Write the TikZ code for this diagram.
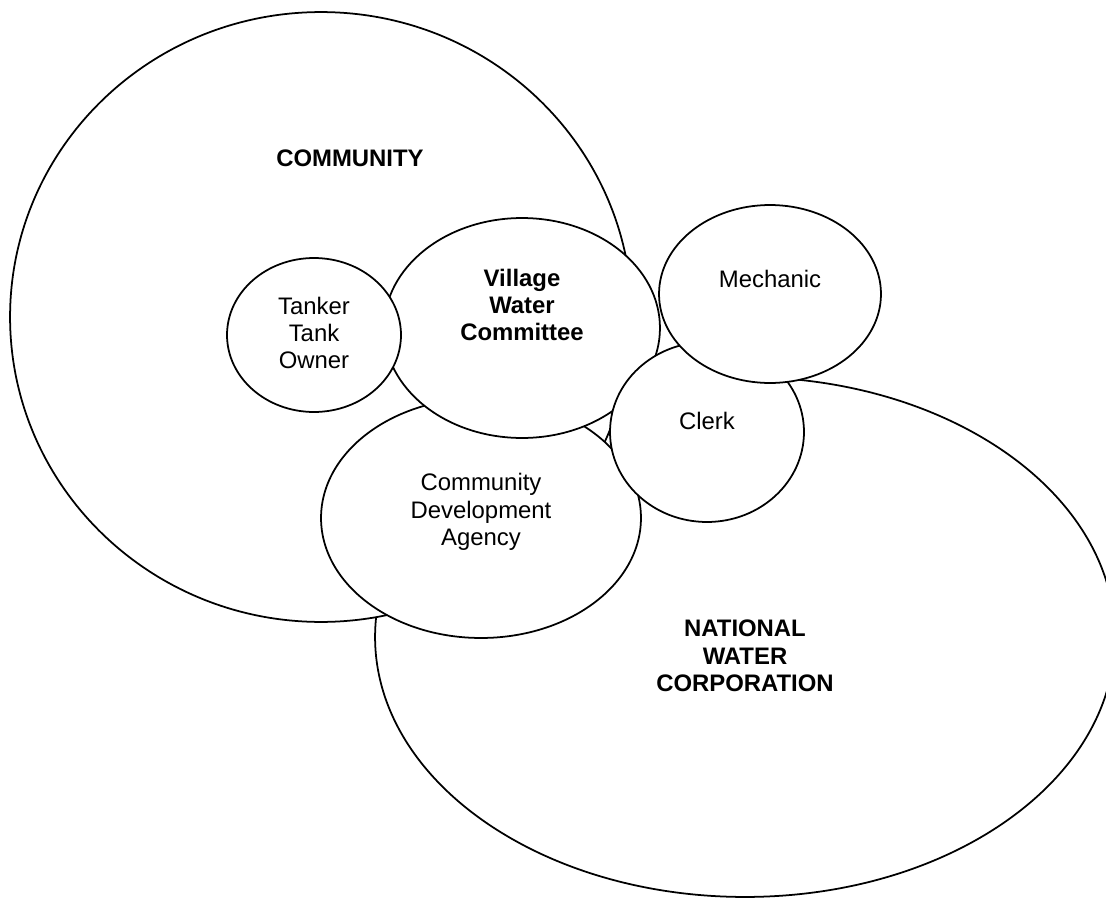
\documentclass[tikz,border=0pt]{standalone}
\usepackage{fontspec}
\setmainfont{Liberation Sans}
\usetikzlibrary{shapes.geometric}

\tikzset{
	blob/.style = {ellipse, draw, fill = white, line width = 1pt, inner sep = 0pt},
	tag/.style = {align = center, font = \fontsize{13.6}{15.6}\selectfont}
}

\begin{document}
\begin{tikzpicture}[x = 0.02cm, y = -0.02cm]
		\clip (0, 0) rectangle (1106, 899);
		\fill[white] (0, 0) rectangle (1106, 899);
		% back to front
		\node[blob, minimum width = 14.8cm, minimum height = 10.4cm] (nwc) at (745, 637) {};
		\node[blob, minimum width = 12.44cm, minimum height = 12.2cm] (comm) at (321, 317) {};
		\node[blob, minimum width = 6.4cm, minimum height = 4.8cm] (cda) at (481, 518) {};
		\node[blob, minimum width = 5.52cm, minimum height = 4.4cm] (vwc) at (522, 328) {};
		\node[blob, minimum width = 3.48cm, minimum height = 3.08cm] (tank) at (314, 335) {};
		\node[blob, minimum width = 3.88cm, minimum height = 3.6cm] (clerk) at (707, 432) {};
		\node[blob, minimum width = 4.44cm, minimum height = 3.56cm] (mech) at (770, 294) {};
		% labels
		\node[tag] (commtxt) at (350, 158) {\textbf{COMMUNITY}};
		\node[tag] (tanktxt) at (314, 333) {Tanker\\Tank\\Owner};
		\node[tag] (vwctxt) at (522, 305) {\textbf{Village}\\\textbf{Water}\\\textbf{Committee}};
		\node[tag] (mechtxt) at (770, 279) {Mechanic};
		\node[tag] (clerktxt) at (707, 421) {Clerk};
		\node[tag] (cdatxt) at (481, 512) {Community\\Development\\Agency};
		\node[tag] (nwctxt) at (745, 656) {\textbf{NATIONAL}\\\textbf{WATER}\\\textbf{CORPORATION}};
	\end{tikzpicture}
\end{document}
